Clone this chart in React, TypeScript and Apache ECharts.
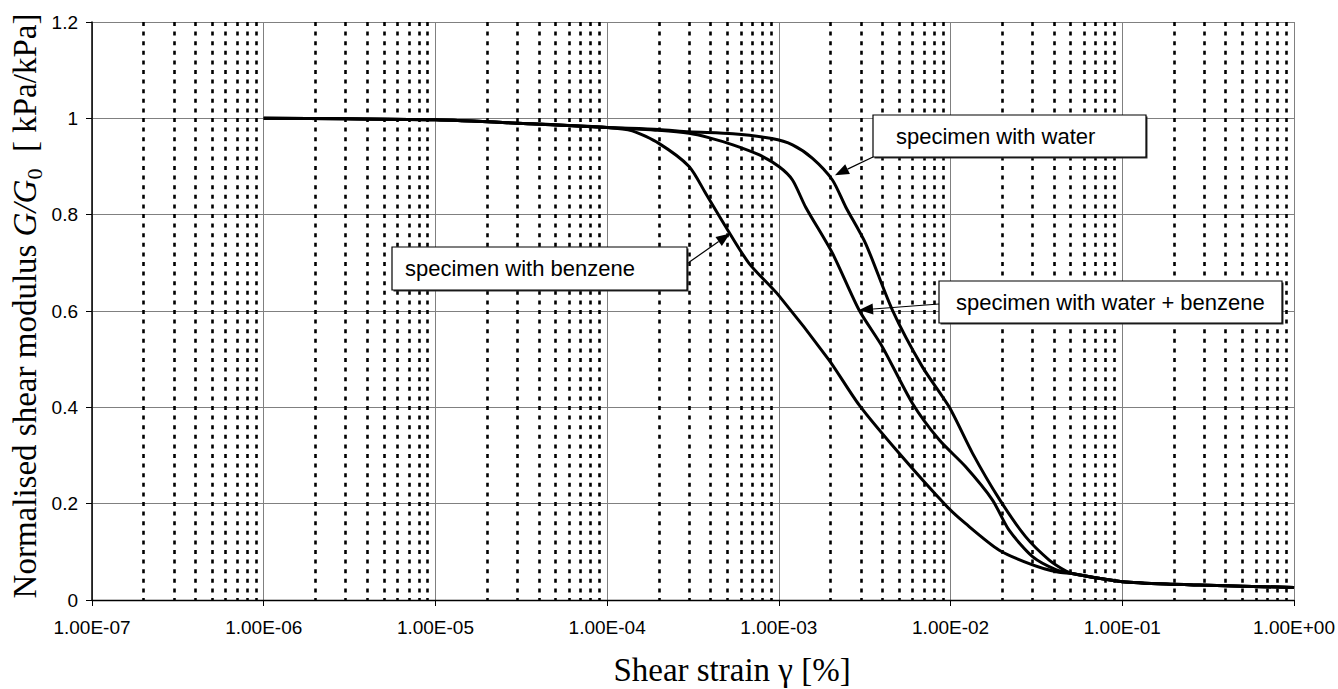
import React, { useEffect, useRef } from "react";
import * as echarts from "echarts";

// ---- Data ----
const xTickLabels = ["1.00E-07", "1.00E-06", "1.00E-05", "1.00E-04", "1.00E-03", "1.00E-02", "1.00E-01", "1.00E+00"];
const yTickLabels = ["0", "0.2", "0.4", "0.6", "0.8", "1", "1.2"];

const decades = [1e-7, 1e-6, 1e-5, 1e-4, 1e-3, 1e-2, 1e-1];
const minorMultipliers = [2, 3, 4, 5, 6, 7, 8, 9];

// shared beginning (all three curves coincide)
const commonStart: [number, number][] = [
  [1e-6, 1.0], [3e-6, 0.999], [1e-5, 0.997], [3e-5, 0.99], [1e-4, 0.981],
];
// shared tail
const commonTail: [number, number][] = [
  [5.1e-2, 0.055], [7.3e-2, 0.045], [1e-1, 0.038], [1.8e-1, 0.033], [2.8e-1, 0.031], [1, 0.026],
];

const waterMid: [number, number][] = [
  [2e-4, 0.977], [3e-4, 0.972], [5.4e-4, 0.968], [9.1e-4, 0.958], [1.2e-3, 0.945],
  [1.57e-3, 0.917], [2.05e-3, 0.872], [2.45e-3, 0.816], [3.2e-3, 0.74],
  [4.58e-3, 0.602], [6.85e-3, 0.484], [9.8e-3, 0.401], [1.34e-2, 0.305], [1.91e-2, 0.211],
  [2.74e-2, 0.131], [3.75e-2, 0.083], [4.7e-2, 0.06],
];
const waterBenzeneMid: [number, number][] = [
  [2e-4, 0.975], [3e-4, 0.969], [3.9e-4, 0.96], [5.4e-4, 0.945], [7.7e-4, 0.924],
  [1e-3, 0.9], [1.2e-3, 0.872], [1.43e-3, 0.816], [2.05e-3, 0.72],
  [2.93e-3, 0.602], [4e-3, 0.526], [6e-3, 0.408], [8.6e-3, 0.332], [1.22e-2, 0.277],
  [1.75e-2, 0.208], [2.19e-2, 0.145], [3e-2, 0.09], [4.1e-2, 0.063],
];
const benzeneMid: [number, number][] = [
  [1.4e-4, 0.974], [2e-4, 0.948], [3e-4, 0.9], [3.75e-4, 0.844], [4.9e-4, 0.775],
  [6.7e-4, 0.699], [1e-3, 0.632], [1.96e-3, 0.498], [2.93e-3, 0.405], [5e-3, 0.305],
  [9.4e-3, 0.196], [1.22e-2, 0.159], [1.91e-2, 0.104], [3e-2, 0.073], [4.2e-2, 0.058],
];

const seriesNames = ["specimen with water", "specimen with water + benzene", "specimen with benzene"];
const annotationTexts = ["specimen with benzene", "specimen with water", "specimen with water + benzene"];
const arrowTips: [number, number][] = [[5.2e-4, 0.761], [2.12e-3, 0.882], [2.93e-3, 0.602]];

// ---- Layout (pixels) ----
const annotationBoxes = [
  { x: 392, y: 247, w: 295, h: 43, padL: 13, tail: [688, 263] },
  { x: 873, y: 115, w: 273, h: 42, padL: 23, tail: [873, 157] },
  { x: 939, y: 281, w: 343, h: 42, padL: 17, tail: [939, 304] },
];

const SANS = '"Liberation Sans", Arial, Helvetica, sans-serif';
const SERIF = '"Liberation Serif", "Times New Roman", Times, serif';

export default function App() {
  const ref = useRef<HTMLDivElement>(null);

  useEffect(() => {
    if (!ref.current) return;
    const chart = echarts.init(ref.current, null, { renderer: "svg" });

    const minorStrains: number[] = [];
    decades.forEach((d) => minorMultipliers.forEach((m) => minorStrains.push(d * m)));

    const curve = (name: string, mid: [number, number][]) => ({
      name,
      type: "line",
      data: [...commonStart, ...mid, ...commonTail],
      showSymbol: false,
      symbol: "none",
      smooth: 0.25,
      z: 3,
      lineStyle: { color: "#000", width: 3 },
      emphasis: { disabled: true },
    });

    const option: any = {
      animation: false,
      backgroundColor: "#fff",
      grid: { left: 92, right: 43, top: 22, bottom: 89, containLabel: false },
      xAxis: {
        type: "log",
        logBase: 10,
        min: 1e-7,
        max: 1,
        splitNumber: 7,
        axisLine: { show: true, onZero: false, lineStyle: { color: "#000", width: 1.3 } },
        axisTick: { show: true, length: 6, lineStyle: { color: "#000", width: 1 } },
        axisLabel: {
          fontFamily: SANS,
          fontSize: 19,
          color: "#000",
          margin: 18,
          formatter: (v: number) => xTickLabels[Math.round(Math.log10(v)) + 7] ?? "",
        },
        splitLine: { show: true, lineStyle: { color: "#808080", width: 1 } },
      },
      yAxis: {
        type: "value",
        min: 0,
        max: 1.2,
        interval: 0.2,
        axisLine: { show: true, lineStyle: { color: "#000", width: 1.5 } },
        axisTick: { show: true, length: 6, lineStyle: { color: "#000", width: 1 } },
        axisLabel: {
          fontFamily: SANS,
          fontSize: 19,
          color: "#000",
          margin: 14,
          formatter: (v: number) => yTickLabels[Math.round(v / 0.2)] ?? "",
        },
        splitLine: { show: true, lineStyle: { color: "#808080", width: 1 } },
      },
      series: [
        {
          name: "minor grid",
          type: "lines",
          coordinateSystem: "cartesian2d",
          silent: true,
          z: 1,
          polyline: false,
          lineStyle: { color: "#000", width: 2.6, type: [4, 5.6], opacity: 1 },
          data: minorStrains.map((v) => ({ coords: [[v, 1.2], [v, 0]] })),
        },
        curve(seriesNames[0], waterMid),
        curve(seriesNames[1], waterBenzeneMid),
        curve(seriesNames[2], benzeneMid),
      ],
    };

    chart.setOption(option);

    const graphics: any[] = [];
    annotationBoxes.forEach((b, i) => {
      const tip = chart.convertToPixel({ gridIndex: 0 }, arrowTips[i]) as number[];
      const [tx, ty] = b.tail;
      const dx = tip[0] - tx;
      const dy = tip[1] - ty;
      const len = Math.sqrt(dx * dx + dy * dy);
      const ux = dx / len;
      const uy = dy / len;
      const headL = 14;
      const headW = 5.5;
      const bx = tip[0] - ux * headL;
      const by = tip[1] - uy * headL;
      graphics.push({
        type: "line",
        z: 20,
        shape: { x1: tx, y1: ty, x2: bx, y2: by },
        style: { stroke: "#000", lineWidth: 1.2 },
      });
      graphics.push({
        type: "polygon",
        z: 20,
        shape: {
          points: [
            [tip[0], tip[1]],
            [bx - uy * headW, by + ux * headW],
            [bx + uy * headW, by - ux * headW],
          ],
        },
        style: { fill: "#000" },
      });
      graphics.push({
        type: "rect",
        z: 21,
        shape: { x: b.x + 1.5, y: b.y + 1.5, width: b.w, height: b.h },
        style: { fill: "#333" },
      });
      graphics.push({
        type: "rect",
        z: 22,
        shape: { x: b.x, y: b.y, width: b.w, height: b.h },
        style: { fill: "#fff", stroke: "#000", lineWidth: 1.2 },
      });
      graphics.push({
        type: "text",
        z: 23,
        x: b.x + b.padL,
        y: b.y + b.h / 2,
        style: {
          text: annotationTexts[i],
          fontFamily: SANS,
          fontSize: 22,
          fill: "#000",
          align: "left",
          verticalAlign: "middle",
        },
      });
    });

    graphics.push({
      type: "text",
      z: 30,
      x: 732,
      y: 670,
      style: {
        text: "Shear strain γ [%]",
        fontFamily: SERIF,
        fontSize: 33,
        fill: "#000",
        align: "center",
        verticalAlign: "middle",
      },
    });
    graphics.push({
      type: "text",
      z: 30,
      x: 25,
      y: 306,
      rotation: Math.PI / 2,
      style: {
        text: "{n|Normalised shear modulus }{i|G/G}{s|0}{n|  [ kPa/kPa]}",
        fontFamily: SERIF,
        fontSize: 33,
        fill: "#000",
        align: "center",
        verticalAlign: "middle",
        rich: {
          n: { fontFamily: SERIF, fontSize: 33, lineHeight: 40, fill: "#000" },
          i: { fontFamily: SERIF, fontSize: 33, lineHeight: 40, fontStyle: "italic", fill: "#000" },
          s: { fontFamily: SERIF, fontSize: 22, lineHeight: 22, verticalAlign: "bottom", fill: "#000" },
        },
      },
    });

    chart.setOption({ graphic: graphics });

    return () => {
      chart.dispose();
    };
  }, []);

  return (
    <div
      ref={ref}
      style={{ position: "fixed", left: 0, top: 0, width: 1338, height: 689, background: "#fff" }}
    />
  );
}
